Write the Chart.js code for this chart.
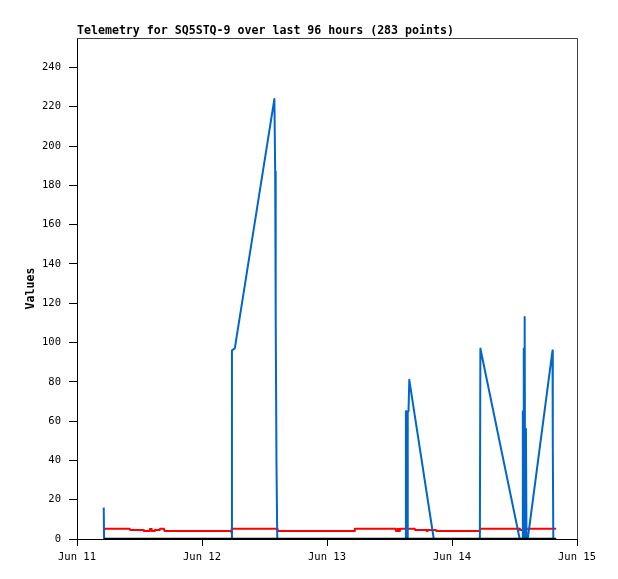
<!DOCTYPE html>
<html>
<head>
<meta charset="utf-8">
<script src="https://cdn.jsdelivr.net/npm/chart.js@4.4.0/dist/chart.umd.min.js"></script>
<style>
  html, body { margin: 0; padding: 0; background: #fff; }
  canvas { display: block; }
</style>
</head>
<body>
<canvas id="myChart" width="618" height="579"></canvas>
<script>
// Telemetry data, x in hours since Jun 11 00:00

const titleText = "Telemetry for SQ5STQ-9 over last 96 hours (283 points)";
const xLabels = ["Jun 11", "Jun 12", "Jun 13", "Jun 14", "Jun 15"];
const yTicks = [0, 20, 40, 60, 80, 100, 120, 140, 160, 180, 200, 220, 240];

// blue series
const valueHours = [5.13, 5.2, 29.65, 29.75, 30.3, 37.9, 38.05, 38.15, 38.3, 38.45,
  63.1, 63.15, 63.25, 63.3, 63.4, 63.45, 63.55, 63.65, 63.8, 68.5,
  77.35, 77.45, 85.0, 85.55, 85.6, 85.7, 85.78, 85.85, 85.95, 86.05, 86.2, 86.3, 86.55,
  91.3, 91.35, 91.45, 92.0];
const valueData = [16, 0, 0, 96, 97, 224, 187, 113, 38, 0,
  0, 65, 0, 65, 0, 65, 65, 65, 81, 0,
  0, 97, 0, 0, 65, 0, 97, 0, 113, 0, 56, 0, 0,
  96, 49, 0, 0];

// red series
const voltHours = [5.15, 5.4, 10.1, 10.2, 12.8, 12.85, 13.9, 14.0, 14.3, 14.35,
  14.9, 14.95, 15.9, 15.95, 16.7, 16.8, 29.6, 29.65, 29.75, 38.4,
  38.5, 53.3, 53.35, 61.2, 61.25, 61.5, 61.55, 61.75, 61.8, 61.95,
  62.0, 64.85, 64.9, 67.1, 67.15, 67.3, 67.35, 68.9, 69.0, 77.3,
  77.35, 85.0, 85.05, 85.9, 85.95, 92.0];
const voltData = [4.6, 5.2, 5.2, 4.6, 4.6, 4.1, 4.1, 5.1, 5.1, 4.1,
  4.1, 4.6, 4.6, 5.2, 5.2, 4.1, 4.1, 3.0, 5.2, 5.2,
  4.1, 4.1, 5.2, 5.2, 4.1, 4.1, 5.1, 5.1, 4.1, 4.1,
  5.2, 5.2, 4.6, 4.6, 4.1, 4.1, 4.6, 4.6, 4.1, 4.1,
  5.2, 5.2, 4.6, 4.6, 5.2, 5.2];

// black series
const zeroHours = [5.15, 92.0];
const zeroData = [0, 0];

const toPoints = (xs, ys) => xs.map((x, i) => ({ x: x, y: ys[i] }));

const mono = '"DejaVu Sans Mono", "Liberation Mono", monospace';

const framePlugin = {
  id: "frame",
  afterDraw: (chart) => {
    const ctx = chart.ctx;
    const a = chart.chartArea;
    ctx.save();
    // top + right border
    ctx.strokeStyle = "#404040";
    ctx.lineWidth = 1;
    ctx.beginPath();
    ctx.moveTo(a.left, Math.round(a.top) + 0.5);
    ctx.lineTo(Math.round(a.right) + 0.5, Math.round(a.top) + 0.5);
    ctx.lineTo(Math.round(a.right) + 0.5, a.bottom);
    ctx.stroke();
    // title
    ctx.fillStyle = "#000";
    ctx.font = "bold 11.6px " + mono;
    ctx.textAlign = "left";
    ctx.textBaseline = "alphabetic";
    ctx.fillText(titleText, a.left, 34);
    // y axis title
    ctx.translate(31, (a.top + a.bottom) / 2);
    ctx.rotate(-Math.PI / 2);
    ctx.textAlign = "center";
    ctx.textBaseline = "middle";
    ctx.fillText("Values", 0, 0);
    ctx.restore();
  },
};

const data = {
  datasets: [
    {
      label: "zero",
      data: toPoints(zeroHours, zeroData),
      borderColor: "#000000",
      borderWidth: 2.5,
      order: 0,
    },
    {
      label: "value",
      data: toPoints(valueHours, valueData),
      borderColor: "#0066cc",
      borderWidth: 2,
      order: 1,
    },
    {
      label: "volt",
      data: toPoints(voltHours, voltData),
      borderColor: "#ff0000",
      borderWidth: 2,
      order: 2,
    },
  ],
};

const config = {
  type: "line",
  data: data,
  options: {
    responsive: false,
    animation: false,
    devicePixelRatio: 1,
    layout: { padding: { top: 38, right: 41, left: 0, bottom: 0 } },
    elements: {
      point: { radius: 0 },
      line: { tension: 0, fill: false, borderCapStyle: "butt", borderJoinStyle: "round" },
    },
    plugins: {
      legend: { display: false },
      tooltip: { enabled: false },
      title: { display: false },
    },
    scales: {
      x: {
        type: "linear",
        min: 0,
        max: 96,
        ticks: {
          stepSize: 24,
          color: "#000",
          font: { family: mono, size: 10.5 },
          padding: 5,
          maxRotation: 0,
          callback: (v) => xLabels[v / 24],
        },
        grid: { drawOnChartArea: false, drawTicks: true, tickLength: 7, color: "#000" },
        border: { display: true, color: "#000", width: 1 },
        afterFit: (s) => { s.height = 40; },
      },
      y: {
        min: 0,
        max: 255,
        ticks: {
          color: "#000",
          font: { family: mono, size: 10.5 },
          padding: 8,
        },
        afterBuildTicks: (s) => { s.ticks = yTicks.map((v) => ({ value: v })); },
        grid: { drawOnChartArea: false, drawTicks: true, tickLength: 8, color: "#000" },
        border: { display: true, color: "#000", width: 1 },
        afterFit: (s) => { s.width = 77; },
      },
    },
  },
  plugins: [framePlugin],
};

const myChart = new Chart(document.getElementById("myChart"), config);
</script>
</body>
</html>
